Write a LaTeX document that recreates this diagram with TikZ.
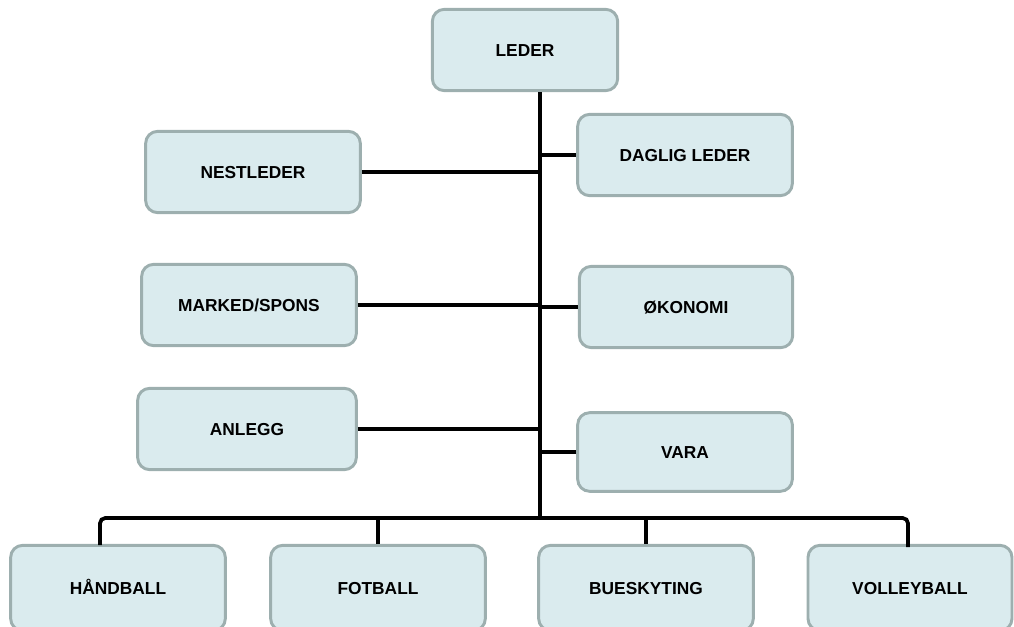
\documentclass[tikz,border=0pt]{standalone}
\usepackage{fontspec}
\setmainfont{Liberation Sans}
\usepackage{tikz}
\definecolor{boxfill}{HTML}{DAEBEE}
\definecolor{boxline}{HTML}{9DAFAF}

\begin{document}
\begin{tikzpicture}[x=0.75pt,y=-0.75pt]
    \tikzstyle{unit}=[rounded corners=9pt,draw=boxline,fill=boxfill,line width=2.2pt,minimum width=161pt,minimum height=61pt,inner sep=2pt,text height=9.5pt,text depth=0pt,font=\fontsize{13}{15}\selectfont\bfseries]
    \tikzstyle{group}=[unit,minimum height=64pt]
    \tikzstyle{link}=[line width=2.8pt,black]
    \useasboundingbox (0,0) rectangle (1014,627);
    \node[unit,minimum width=139pt] (L1) at (525,50) {LEDER};
    \node[unit] (V1) at (253,172) {NESTLEDER};
    \node[unit] (H1) at (685,155) {DAGLIG LEDER};
    \node[unit] (V2) at (249,305) {MARKED/SPONS};
    \node[unit,minimum width=160pt] (H2) at (686,307) {ØKONOMI};
    \node[unit,minimum width=164pt] (V3) at (247,429) {ANLEGG};
    \node[unit,minimum height=59pt] (H3) at (685,452) {VARA};
    \node[group] (G1) at (118,588) {HÅNDBALL};
    \node[group] (G2) at (378,588) {FOTBALL};
    \node[group] (G3) at (646,588) {BUESKYTING};
    \node[group,minimum width=153pt] (G4) at (910,588) {VOLLEYBALL};
    \coordinate (T) at (540,518);
    \coordinate (D1) at (100,545);
    \coordinate (D4) at (908,547);
    \draw[link] (L1.south -| T) -- (T);
    \foreach \n in {V1,V2,V3,H1,H2,H3}
        \draw[link] (\n) -- (\n -| T);
    \draw[link,rounded corners=4pt] (D1) |- (T) -| (D4);
    \draw[link] (G2.north) -- (G2.north |- T);
    \draw[link] (G3.north) -- (G3.north |- T);
\end{tikzpicture}
\end{document}
